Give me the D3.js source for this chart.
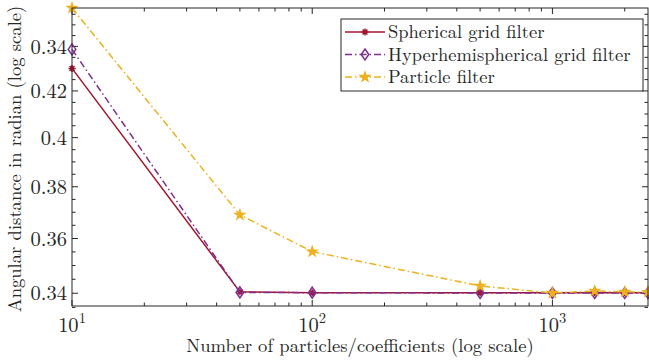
<!DOCTYPE html>
<html>
<head>
<meta charset="utf-8">
<script src="https://cdn.jsdelivr.net/npm/d3@7"></script>
<style>
  body { margin: 0; background: #fff; }
</style>
</head>
<body>
<div id="chart"></div>
<script>
// data
var nValues = [10, 50, 100, 500, 1000, 1500, 2000, 2500];
var sphericalGrid = [0.4300, 0.3405, 0.3402, 0.3402, 0.3402, 0.3402, 0.3402, 0.3402];
var hyperGrid = [0.4386, 0.3403, 0.3402, 0.3401, 0.3401, 0.3401, 0.3401, 0.3401];
var particleFilter = [0.4580, 0.3690, 0.3551, 0.3426, 0.3401, 0.3408, 0.3405, 0.3404];
var yTicks = [0.34, 0.36, 0.38, 0.4, 0.42, 0.44];
var yTickLabels = ["0.34", "0.36", "0.38", "0.4", "0.42", "0.34"]; // as printed in the original
var xTicks = [10, 100, 1000];
var seriesNames = ["Spherical grid filter", "Hyperhemispherical grid filter", "Particle filter"];

var width = 649, height = 362;
var margin = {top: 8, right: 1, bottom: 56, left: 72};
var w = width - margin.left - margin.right,
    h = height - margin.top - margin.bottom;

var svg = d3.select("#chart").append("svg")
    .attr("width", width)
    .attr("height", height)
    .style("font-family", "'Latin Modern Roman'");

var g = svg.append("g")
    .attr("transform", "translate(" + margin.left + "," + margin.top + ")");

var x = d3.scaleLog().domain([10, 2500]).range([0, w]);
var y = d3.scaleLog().domain([0.3355, 0.458]).range([h, 0]);

var series = [
  {name: seriesNames[0], values: sphericalGrid, color: "#A2142F", dash: null, marker: "asterisk"},
  {name: seriesNames[1], values: hyperGrid, color: "#7E2F8E", dash: "7,3,1.5,3", marker: "diamond"},
  {name: seriesNames[2], values: particleFilter, color: "#EDB120", dash: "7,3,1.5,3", marker: "star"}
];

// minor ticks
var xMinor = [];
[10, 100, 1000].forEach(function(d) {
  for (var k = 2; k <= 9; k++) if (d * k <= 2500) xMinor.push(d * k);
});
var yMinor = d3.range(0.335, 0.458, 0.005).filter(function(v) {
  return yTicks.every(function(t) { return Math.abs(t - v) > 1e-6; });
});

var axisColor = "#262626";
var ticks = g.append("g").attr("stroke", axisColor).attr("stroke-width", 1);
function tick(x1, y1, x2, y2) {
  ticks.append("line").attr("x1", x1).attr("y1", y1).attr("x2", x2).attr("y2", y2);
}
xTicks.forEach(function(d) {
  tick(x(d), h, x(d), h - 6); tick(x(d), 0, x(d), 6);
});
xMinor.forEach(function(d) {
  tick(x(d), h, x(d), h - 3.5); tick(x(d), 0, x(d), 3.5);
});
yTicks.forEach(function(d) {
  tick(0, y(d), 6, y(d)); tick(w, y(d), w - 6, y(d));
});
yMinor.forEach(function(d) {
  tick(0, y(d), 3.5, y(d)); tick(w, y(d), w - 3.5, y(d));
});

// lines
var line = d3.line()
    .x(function(d, i) { return x(nValues[i]); })
    .y(function(d) { return y(d); });

function drawMarker(sel, type, color) {
  if (type === "asterisk") {
    var r = 3.5;
    var p = "M" + (-r) + ",0L" + r + ",0M0," + (-r) + "L0," + r +
            "M" + (-r * 0.7) + "," + (-r * 0.7) + "L" + (r * 0.7) + "," + (r * 0.7) +
            "M" + (-r * 0.7) + "," + (r * 0.7) + "L" + (r * 0.7) + "," + (-r * 0.7);
    sel.append("path").attr("d", p).attr("stroke", color).attr("stroke-width", 1.5).attr("fill", "none");
  } else if (type === "diamond") {
    sel.append("path").attr("d", "M0,-5.5L3.8,0L0,5.5L-3.8,0Z")
      .attr("stroke", color).attr("stroke-width", 1.5).attr("fill", "none");
  } else {
    sel.append("path").attr("d", d3.symbol(d3.symbolStar, 30)())
      .attr("stroke", color).attr("stroke-width", 1.2).attr("fill", color);
  }
}

series.forEach(function(s) {
  g.append("path")
    .datum(s.values)
    .attr("d", line)
    .attr("fill", "none")
    .attr("stroke", s.color)
    .attr("stroke-width", 1.5)
    .attr("stroke-dasharray", s.dash);
  s.values.forEach(function(v, i) {
    var m = g.append("g").attr("transform", "translate(" + x(nValues[i]) + "," + y(v) + ")");
    drawMarker(m, s.marker, s.color);
  });
});

// box
g.append("rect").attr("width", w).attr("height", h)
  .attr("fill", "none").attr("stroke", axisColor).attr("stroke-width", 1);

// tick labels
xTicks.forEach(function(d) {
  var t = g.append("text")
    .attr("x", x(d)).attr("y", h + 26)
    .attr("text-anchor", "middle")
    .attr("fill", axisColor)
    .attr("font-size", 20.5);
  t.append("tspan").text("10");
  t.append("tspan").attr("dy", -9).attr("font-size", 14.5).text(Math.round(Math.log10(d)));
});
yTicks.forEach(function(d, i) {
  g.append("text")
    .attr("x", -5).attr("y", y(d))
    .attr("dy", "0.35em")
    .attr("text-anchor", "end")
    .attr("fill", axisColor)
    .attr("font-size", 20.5)
    .text(yTickLabels[i]);
});

// axis titles
g.append("text")
  .attr("x", 360 - margin.left).attr("y", h + 46)
  .attr("text-anchor", "middle")
  .attr("fill", axisColor)
  .attr("font-size", 18.6)
  .text("Number of particles/coefficients (log scale)");
g.append("text")
  .attr("transform", "translate(" + (-51) + "," + (h / 2 + 2) + ") rotate(-90)")
  .attr("text-anchor", "middle")
  .attr("fill", axisColor)
  .attr("font-size", 18.6)
  .text("Angular distance in radian (log scale)");

// legend
var lx = 341 - margin.left, ly = 19 - margin.top;
var legend = g.append("g").attr("transform", "translate(" + lx + "," + ly + ")");
legend.append("rect").attr("width", 302).attr("height", 72)
  .attr("fill", "#fff").attr("stroke", axisColor).attr("stroke-width", 1);
series.forEach(function(s, i) {
  var yy = 13 + i * 22.5;
  legend.append("line")
    .attr("x1", 4).attr("x2", 44).attr("y1", yy).attr("y2", yy)
    .attr("stroke", s.color).attr("stroke-width", 1.5)
    .attr("stroke-dasharray", s.dash);
  drawMarker(legend.append("g").attr("transform", "translate(24," + yy + ")"), s.marker, s.color);
  legend.append("text")
    .attr("x", 47).attr("y", yy).attr("dy", "0.33em")
    .attr("fill", axisColor)
    .attr("font-size", 18.5)
    .text(s.name);
});
</script>
</body>
</html>
